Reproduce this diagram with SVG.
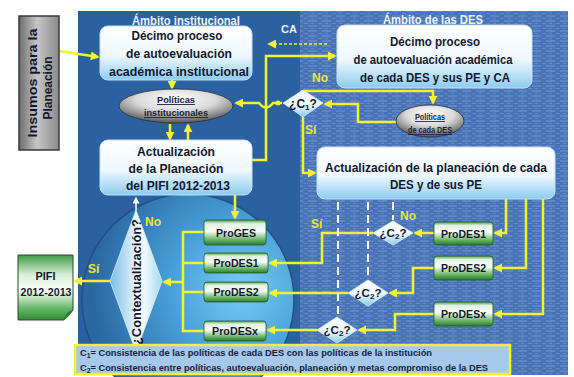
<svg xmlns="http://www.w3.org/2000/svg" width="574" height="377" viewBox="0 0 574 377">
<style>
.t{font-family:"Liberation Sans",Arial,sans-serif;font-weight:bold;fill:#14182e;text-anchor:middle}
.amb{font-family:"Liberation Sans",Arial,sans-serif;font-weight:bold;fill:#eef4ff;text-anchor:middle;font-size:12.5px}
.lab{font-family:"Liberation Sans",Arial,sans-serif;font-weight:bold;fill:#e8e63a;font-size:12px}
.pol{font-family:"Liberation Sans",Arial,sans-serif;font-weight:bold;fill:#1a2240;text-anchor:middle}
.y{fill:none;stroke:#f2f230;stroke-width:2.5;stroke-linejoin:miter}
.ya{fill:none;stroke:#f2f230;stroke-width:2.5;marker-end:url(#ah)}
.wd{fill:none;stroke:#ffffff;stroke-width:2;stroke-dasharray:8 5}
.box{fill:url(#boxg);stroke:#c4e2f6;stroke-width:1}
.grn{fill:url(#greeng);stroke:#1f5a22;stroke-width:0.8}
.dia{fill:url(#diag);stroke:#d8eefa;stroke-width:0.8}
.ell{fill:url(#ellg);stroke:#2e2e2e;stroke-width:0.8}
.leg{font-family:"Liberation Sans",Arial,sans-serif;font-weight:bold;fill:#17213f;font-size:9.5px}
</style>
<defs>
<marker id="ah" markerUnits="userSpaceOnUse" markerWidth="9" markerHeight="9" viewBox="0 0 10 10" refX="8" refY="5" orient="auto">
<path d="M0,0 L10,5 L0,10 Z" fill="#f2f230"/>
</marker>
<marker id="ahw" markerUnits="userSpaceOnUse" markerWidth="7" markerHeight="7" viewBox="0 0 10 10" refX="8" refY="5" orient="auto">
<path d="M0,0 L10,5 L0,10 Z" fill="#ffffff"/>
</marker>
<linearGradient id="boxg" x1="0" y1="0" x2="0" y2="1">
<stop offset="0" stop-color="#ffffff"/>
<stop offset="0.55" stop-color="#eef8fe"/>
<stop offset="1" stop-color="#8ccbef"/>
</linearGradient>
<linearGradient id="diag" x1="0" y1="0" x2="0" y2="1">
<stop offset="0" stop-color="#ffffff"/>
<stop offset="0.55" stop-color="#eef8fe"/>
<stop offset="1" stop-color="#86c8ee"/>
</linearGradient>
<linearGradient id="ctxg" x1="0" y1="0" x2="1" y2="0">
<stop offset="0" stop-color="#78bce8"/>
<stop offset="0.6" stop-color="#ffffff"/>
<stop offset="1" stop-color="#a6d8f4"/>
</linearGradient>
<linearGradient id="greeng" x1="0" y1="0" x2="0" y2="1">
<stop offset="0" stop-color="#4f9c4f"/>
<stop offset="0.15" stop-color="#e2f2e2"/>
<stop offset="0.45" stop-color="#f7fcf7"/>
<stop offset="0.8" stop-color="#62b062"/>
<stop offset="1" stop-color="#2a7a30"/>
</linearGradient>
<linearGradient id="pifig" x1="0" y1="0" x2="0" y2="1">
<stop offset="0" stop-color="#3f9a45"/>
<stop offset="0.3" stop-color="#d6edd6"/>
<stop offset="0.55" stop-color="#ffffff"/>
<stop offset="0.8" stop-color="#70bc70"/>
<stop offset="1" stop-color="#2f8a35"/>
</linearGradient>
<linearGradient id="grayg" x1="0" y1="0" x2="1" y2="0">
<stop offset="0" stop-color="#6c6c6c"/>
<stop offset="0.45" stop-color="#c6c6c6"/>
<stop offset="1" stop-color="#8a8a8a"/>
</linearGradient>
<radialGradient id="ellg" cx="0.5" cy="0.3" r="0.7">
<stop offset="0" stop-color="#ffffff"/>
<stop offset="0.5" stop-color="#dadada"/>
<stop offset="1" stop-color="#555555"/>
</radialGradient>
<radialGradient id="circg" cx="0.75" cy="0.45" r="0.7">
<stop offset="0" stop-color="#78ccf4"/>
<stop offset="0.45" stop-color="#4aa2da"/>
<stop offset="1" stop-color="#2a68a2"/>
</radialGradient>
<pattern id="tex" width="14" height="5" patternUnits="userSpaceOnUse">
<rect width="14" height="5" fill="#4873b6"/>
<path d="M0,1 H9" stroke="#7398d0" stroke-width="1"/>
<path d="M10,3.5 H14 M3,3.5 H6" stroke="#5f89c6" stroke-width="1"/>
</pattern>
</defs>

<g id="background">
<rect x="78" y="11" width="224" height="364" fill="#2b61a0"/>
<rect x="300" y="11" width="268" height="364" fill="url(#tex)"/>
<circle cx="188" cy="300" r="106" fill="url(#circg)" stroke="#23507f" stroke-width="1.5"/>
<text class="amb" x="186" y="25" textLength="108" lengthAdjust="spacingAndGlyphs">Ámbito institucional</text>
<text class="amb" x="433" y="24" textLength="100" lengthAdjust="spacingAndGlyphs">Ámbito de las DES</text>
</g>

<g id="connectors">
<path class="ya" d="M59,51 L98,57"/>
<path class="ya" d="M172,80 V88"/>
<path class="ya" d="M170,124 V139"/>
<path class="ya" d="M188,140 V125"/>
<path class="ya" d="M252,160 H266 V56 H335"/>
<path d="M327,44 H269" fill="none" stroke="#f2f230" stroke-width="1.6" stroke-dasharray="3 2" marker-end="url(#ah)"/>
<text x="281" y="33" font-family="Liberation Sans, Arial, sans-serif" font-weight="bold" font-size="11" fill="#eef4ff">CA</text>
<path class="ya" d="M282,103 H273 Q266,112 259,103 H236"/>
<circle cx="278" cy="103" r="2.5" fill="#f2f230"/>
<path class="ya" d="M303,90 V91 H433 V103"/>
<path class="ya" d="M397,122 H358 V104 H325"/>
<path class="ya" d="M303,117 V173 H315"/>
<path class="ya" d="M506,199 V233 H495"/>
<path class="ya" d="M526,199 V268 H495"/>
<path class="ya" d="M543,199 V314 H495"/>
<path class="ya" d="M434,233 H415"/>
<path class="ya" d="M434,268 H413 V293 H390"/>
<path class="ya" d="M434,314 H395 V330 H359"/>
<path class="ya" d="M373,233 H322 V263 H270"/>
<path class="ya" d="M348,293 H270"/>
<path class="ya" d="M317,330 H268"/>
<path class="ya" d="M235,195 V218"/>
<path class="y" d="M204,232 H183 V331 H204 M183,263 H204 M183,292 H204"/>
<path class="ya" d="M183,282 H164"/>
<path class="ya" d="M110,281 H75"/>
<path d="M136,210 V198" fill="none" stroke="#ffffff" stroke-width="1.5" marker-end="url(#ahw)"/>
<path class="wd" d="M338,202 V316"/>
<path class="wd" d="M368,202 V279"/>
<path class="wd" d="M393,202 V220"/>
<text class="lab" x="312" y="82">No</text>
<text class="lab" x="305" y="134">Sí</text>
<text class="lab" x="145" y="226">No</text>
<text class="lab" x="88" y="273">Sí</text>
<text class="lab" x="311" y="228">Sí</text>
<text class="lab" x="400" y="220">No</text>
</g>

<g id="insumos">
<rect x="19" y="16" width="40" height="134" fill="url(#grayg)" stroke="#3a3a3a" stroke-width="1.5"/>
<g transform="translate(32,83) rotate(-90)"><text class="t" x="0" y="4.5" font-size="13.5" textLength="109" lengthAdjust="spacingAndGlyphs">Insumos para la</text></g>
<g transform="translate(47,88) rotate(-90)"><text class="t" x="0" y="4.5" font-size="13.5" textLength="63" lengthAdjust="spacingAndGlyphs">Planeación</text></g>
</g>

<g id="decimo-institucional">
<rect class="box" x="100" y="26" width="152" height="54" rx="8"/>
<text class="t" x="177" y="40" font-size="13.5" textLength="91" lengthAdjust="spacingAndGlyphs">Décimo proceso</text>
<text class="t" x="179" y="58" font-size="13.5" textLength="106" lengthAdjust="spacingAndGlyphs">de autoevaluación</text>
<text class="t" x="179" y="76" font-size="13.5" textLength="140" lengthAdjust="spacingAndGlyphs">académica  institucional</text>
</g>

<g id="politicas-institucionales">
<ellipse class="ell" cx="176" cy="106" rx="57" ry="17"/>
<text class="pol" x="176" y="103" font-size="9" text-decoration="underline" textLength="38" lengthAdjust="spacingAndGlyphs">Políticas</text>
<text class="pol" x="176" y="116" font-size="9" text-decoration="underline" textLength="64" lengthAdjust="spacingAndGlyphs">institucionales</text>
</g>

<g id="actualizacion-institucional">
<rect class="box" x="100" y="140" width="152" height="55" rx="8"/>
<text class="t" x="176" y="156" font-size="13.5" textLength="78" lengthAdjust="spacingAndGlyphs">Actualización</text>
<text class="t" x="176" y="173" font-size="13.5" textLength="95" lengthAdjust="spacingAndGlyphs">de la Planeación</text>
<text class="t" x="178" y="190" font-size="13.5" textLength="104" lengthAdjust="spacingAndGlyphs">del PIFI 2012-2013</text>
</g>

<g id="decimo-des">
<rect class="box" x="337" y="25" width="195" height="63" rx="8"/>
<text class="t" x="435" y="46" font-size="13" textLength="90" lengthAdjust="spacingAndGlyphs">Décimo proceso</text>
<text class="t" x="433" y="64" font-size="13" textLength="159" lengthAdjust="spacingAndGlyphs">de autoevaluación académica</text>
<text class="t" x="435" y="82" font-size="13" textLength="150" lengthAdjust="spacingAndGlyphs">de cada DES y sus PE y CA</text>
</g>

<g id="c1">
<path class="dia" d="M303,90 L323,103 L303,117 L283,103 Z"/>
<text class="t" x="303" y="107.5" font-size="12">¿C<tspan font-size="8" dy="2">1</tspan><tspan dy="-2">?</tspan></text>
</g>

<g id="politicas-des">
<ellipse class="ell" cx="430" cy="121" rx="34" ry="16"/>
<text class="pol" x="430" y="120" font-size="8.5" text-decoration="underline" textLength="30" lengthAdjust="spacingAndGlyphs">Políticas</text>
<text class="pol" x="430" y="133" font-size="8.5" text-decoration="underline" textLength="44" lengthAdjust="spacingAndGlyphs">de cada DES</text>
</g>

<g id="actualizacion-des">
<rect class="box" x="317" y="147" width="238" height="52" rx="8"/>
<text class="t" x="436" y="172" font-size="13.5" textLength="222" lengthAdjust="spacingAndGlyphs">Actualización de la planeación de cada</text>
<text class="t" x="436" y="189" font-size="13.5" textLength="92" lengthAdjust="spacingAndGlyphs">DES y de sus PE</text>
</g>

<g id="prodes1-des">
<rect class="grn" x="434" y="222" width="59" height="23" rx="3"/>
<text class="t" x="463.5" y="237.5" font-size="11" textLength="45" lengthAdjust="spacingAndGlyphs">ProDES1</text>
</g>
<g id="prodes2-des">
<rect class="grn" x="434" y="256" width="59" height="24" rx="3"/>
<text class="t" x="463.5" y="272" font-size="11" textLength="45" lengthAdjust="spacingAndGlyphs">ProDES2</text>
</g>
<g id="prodesx-des">
<rect class="grn" x="434" y="302" width="59" height="24" rx="3"/>
<text class="t" x="463.5" y="318" font-size="11" textLength="45" lengthAdjust="spacingAndGlyphs">ProDESx</text>
</g>

<g id="c2-1">
<path class="dia" d="M393,221 L413,233 L393,245 L373,233 Z"/>
<text class="t" x="393" y="237" font-size="11.5">¿C<tspan font-size="8" dy="2">2</tspan><tspan dy="-2">?</tspan></text>
</g>
<g id="c2-2">
<path class="dia" d="M368,280 L388,293 L368,306 L348,293 Z"/>
<text class="t" x="368" y="297" font-size="11.5">¿C<tspan font-size="8" dy="2">2</tspan><tspan dy="-2">?</tspan></text>
</g>
<g id="c2-3">
<path class="dia" d="M337,317 L357,330 L337,343 L317,330 Z"/>
<text class="t" x="337" y="334" font-size="11.5">¿C<tspan font-size="8" dy="2">2</tspan><tspan dy="-2">?</tspan></text>
</g>

<g id="proges">
<rect class="grn" x="204" y="220" width="62" height="25" rx="3"/>
<text class="t" x="236" y="236.5" font-size="11" textLength="40" lengthAdjust="spacingAndGlyphs">ProGES</text>
</g>
<g id="prodes1">
<rect class="grn" x="204" y="253" width="64" height="20" rx="3"/>
<text class="t" x="236" y="267" font-size="11" textLength="45" lengthAdjust="spacingAndGlyphs">ProDES1</text>
</g>
<g id="prodes2">
<rect class="grn" x="204" y="282" width="64" height="20" rx="3"/>
<text class="t" x="236" y="296" font-size="11" textLength="45" lengthAdjust="spacingAndGlyphs">ProDES2</text>
</g>
<g id="prodesx">
<rect class="grn" x="204" y="321" width="62" height="20" rx="3"/>
<text class="t" x="235" y="335" font-size="11" textLength="46" lengthAdjust="spacingAndGlyphs">ProDESx</text>
</g>

<g id="contextualizacion">
<path d="M136,210 L162,281 L136,352 L110,281 Z" fill="url(#ctxg)" stroke="#d8eefa" stroke-width="0.8"/>
<g transform="translate(136,282) rotate(-90)"><text class="t" x="0" y="4.5" font-size="13" textLength="126" lengthAdjust="spacingAndGlyphs">¿Contextualización?</text></g>
</g>

<g id="pifi">
<path d="M18,255 H73 V310 L64,320 H18 Z" fill="url(#pifig)" stroke="#2a4a2a" stroke-width="1"/>
<path d="M73,310 Q66,311 64,320 Q70,316 73,310 Z" fill="#2f7a35"/>
<text class="t" x="45.5" y="280" font-size="11.5" textLength="20" lengthAdjust="spacingAndGlyphs">PIFI</text>
<text class="t" x="46" y="296" font-size="11.5" textLength="51" lengthAdjust="spacingAndGlyphs">2012-2013</text>
</g>

<g id="legend">
<rect x="75" y="345" width="435" height="29" fill="#a6c8ea" stroke="#f2f230" stroke-width="2.5"/>
<text class="leg" x="80" y="356" textLength="352" lengthAdjust="spacingAndGlyphs">C<tspan font-size="7" dy="2">1</tspan><tspan dy="-2">= Consistencia de las políticas de cada DES con las políticas de la institución</tspan></text>
<text class="leg" x="80" y="371" textLength="408" lengthAdjust="spacingAndGlyphs">C<tspan font-size="7" dy="2">2</tspan><tspan dy="-2">= Consistencia entre  políticas, autoevaluación, planeación y metas compromiso de la DES</tspan></text>
</g>
</svg>
